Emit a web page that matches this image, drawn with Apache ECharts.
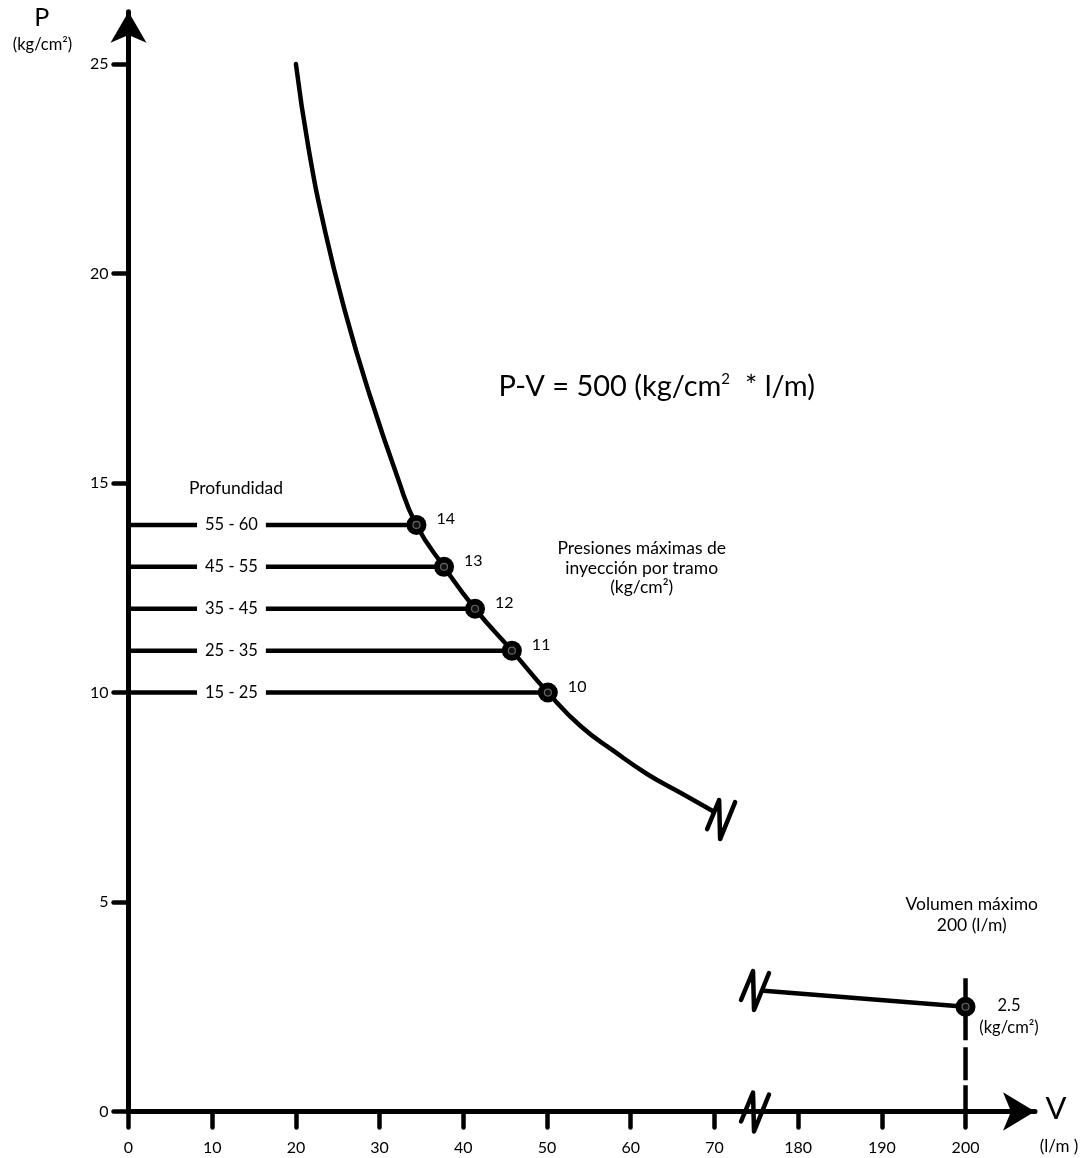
<!DOCTYPE html>
<html><head><meta charset="utf-8">
<script src="https://cdn.jsdelivr.net/npm/echarts@6/dist/echarts.min.js"></script>
<style>html,body{margin:0;padding:0;background:#fff}#c{width:1086px;height:1158px}</style>
</head><body><div id="c"></div>
<script>
// ---- data ----
const xTickLabels = [0, 10, 20, 30, 40, 50, 60, 70, 180, 190, 200];
const yTickLabels = [0, 5, 10, 15, 20, 25];
const curveV = [20.0, 21.5, 23.5, 26.0, 28.5, 32.2, 34.4, 37.7, 41.4, 45.8, 50.1, 54.0, 58.0, 62.0, 66.0, 69.9];
const curveP = [25.0, 23.0, 21.0, 19.0, 17.3, 15.1, 14.0, 13.0, 12.0, 11.0, 10.0, 9.2, 8.6, 8.05, 7.6, 7.16];
const levelP = [14, 13, 12, 11, 10];
const levelV = [34.4, 37.7, 41.4, 45.8, 50.1];
const levelNames = ['14', '13', '12', '11', '10'];
const depthLabels = ['55 - 60', '45 - 55', '35 - 45', '25 - 35', '15 - 25'];
const depthLabelV = 12.3;
const tailV = [175.9, 200];
const tailP = [2.88, 2.5];
const maxVolumeV = 200;
const maxVolumeLineP = [3.18, 0];
const breakMarksV = [70.8, 174.85, 174.85];
const breakMarksP = [6.98, 2.9, 0];

// broken x axis: values above 100 are drawn 100 units further left
const X_SHIFT = 100;
const toAxis = v => (v > X_SHIFT ? v - X_SHIFT : v);
const fromAxis = a => (a > 75 ? Math.round(a + X_SHIFT) : Math.round(a));

const FONT = 'Lato';
const chart = echarts.init(document.getElementById('c'), null, {renderer: 'canvas'});

const levelSeries = levelP.map((p, i) => ({
  type: 'line', data: [[0, p], [levelV[i], p]], symbol: 'none', silent: true,
  lineStyle: {color: '#000', width: 4.5, cap: 'round', opacity: 1}, z: 2
}));

const breakShape = [[-14, 10], [-2, -19], [-1, 20], [14, -17]];

const option = {
  backgroundColor: '#fff',
  animation: false,
  textStyle: {fontFamily: FONT},
  grid: {left: 128.5, right: 51, top: 11.7, bottom: 46.5, containLabel: false},
  xAxis: {
    type: 'value', min: 0, max: 108.3,
    splitLine: {show: false},
    axisLine: {lineStyle: {color: '#000', width: 5}, symbol: ['none', 'arrow'], symbolSize: [29, 32]},
    axisTick: {customValues: xTickLabels.map(toAxis), length: 16, lineStyle: {color: '#000', width: 4.5, cap: 'round'}},
    axisLabel: {customValues: xTickLabels.map(toAxis), formatter: v => String(fromAxis(v)), margin: 28, fontSize: 16, color: '#000', fontFamily: FONT}
  },
  yAxis: {
    type: 'value', min: 0, max: 26.25,
    splitLine: {show: false},
    axisLine: {lineStyle: {color: '#000', width: 5}, symbol: ['none', 'arrow'], symbolSize: [27, 31]},
    axisTick: {customValues: yTickLabels, length: 15, lineStyle: {color: '#000', width: 4.5, cap: 'round'}},
    axisLabel: {customValues: yTickLabels, margin: 20, fontSize: 16, color: '#000', fontFamily: FONT}
  },
  series: [
    {
      type: 'line', smooth: 0.5, symbol: 'none', silent: true,
      data: curveV.map((v, i) => [toAxis(v), curveP[i]]),
      lineStyle: {color: '#000', width: 4.5, cap: 'round', opacity: 1}, z: 3
    },
    ...levelSeries,
    {
      type: 'scatter', symbolSize: 1, itemStyle: {color: '#fff', opacity: 1}, z: 6,
      data: levelP.map((p, i) => ({value: [depthLabelV, p], name: depthLabels[i]})),
      label: {show: true, position: 'inside', formatter: '{b}', color: '#000', opacity: 1, fontSize: 16.5, fontFamily: FONT,
        textBorderWidth: 0, backgroundColor: '#fff', padding: [3, 8]}
    },
    {
      type: 'line', symbol: 'none', silent: true,
      data: tailV.map((v, i) => [toAxis(v), tailP[i]]),
      lineStyle: {color: '#000', width: 4.5, cap: 'round', opacity: 1}, z: 3
    },
    {
      type: 'line', symbol: 'none', silent: true,
      data: maxVolumeLineP.map(p => [toAxis(maxVolumeV), p]),
      lineStyle: {color: '#000', width: 4.5, type: [62, 7, 33, 5, 40], opacity: 1}, z: 3
    },
    {
      type: 'scatter', symbolSize: 20, z: 7,
      itemStyle: {color: '#000', opacity: 1},
      data: levelP.map((p, i) => ({value: [levelV[i], p], name: levelNames[i]})),
      label: {show: true, position: 'right', distance: 10, offset: [0, -6], formatter: '{b}', color: '#000', opacity: 1,
        textBorderWidth: 0, fontSize: 16, fontFamily: FONT}
    },
    {
      type: 'scatter', symbolSize: 20, z: 7, itemStyle: {color: '#000', opacity: 1},
      data: [[toAxis(tailV[1]), tailP[1]]]
    },
    {
      type: 'scatter', symbol: 'circle', symbolSize: 7, z: 8, silent: true,
      itemStyle: {color: '#111', borderColor: '#666', borderWidth: 1.2, opacity: 1},
      data: levelP.map((p, i) => [levelV[i], p]).concat([[toAxis(tailV[1]), tailP[1]]])
    },
    {
      type: 'custom', z: 9, silent: true,
      data: breakMarksV.map((v, i) => [toAxis(v), breakMarksP[i]]),
      renderItem: (params, api) => {
        const c = api.coord([api.value(0), api.value(1)]);
        return {
          type: 'polyline',
          shape: {points: breakShape.map(p => [c[0] + p[0], c[1] + p[1]])},
          style: {stroke: '#000', lineWidth: 4.5, fill: null, lineCap: 'round', lineJoin: 'round', opacity: 1}
        };
      }
    }
  ],
  graphic: [
    {type: 'text', x: 41.7, y: 18.3, style: {text: 'P', fontSize: 25, fontFamily: FONT, fill: '#000', align: 'center', verticalAlign: 'middle'}},
    {type: 'text', x: 42.5, y: 45, style: {text: '(kg/cm²)', fontSize: 16.5, fontFamily: FONT, fill: '#000', align: 'center', verticalAlign: 'middle'}},
    {type: 'text', x: 1056, y: 1109, style: {text: 'V', fontSize: 31, fontFamily: FONT, fill: '#000', align: 'center', verticalAlign: 'middle'}},
    {type: 'text', x: 1059, y: 1147, style: {text: '(l/m )', fontSize: 17, fontFamily: FONT, fill: '#000', align: 'center', verticalAlign: 'middle'}},
    {type: 'text', x: 236, y: 488.3, style: {text: 'Profundidad', fontSize: 17.5, fontFamily: FONT, fill: '#000', align: 'center', verticalAlign: 'middle'}},
    {type: 'text', x: 656.7, y: 386.7, style: {
      text: 'P-V = 500 (kg/cm{s|2}  * l/m)', fontSize: 29, fontFamily: FONT, fill: '#000', align: 'center', verticalAlign: 'middle',
      rich: {s: {fontSize: 15, fontFamily: FONT, fill: '#000', padding: [0, 0, 16, 0]}}}},
    {type: 'text', x: 641.7, y: 568.3, style: {text: 'Presiones máximas de\ninyección por tramo\n(kg/cm²)', fontSize: 17.5, lineHeight: 19.5, fontFamily: FONT, fill: '#000', align: 'center', verticalAlign: 'middle'}},
    {type: 'text', x: 971.7, y: 915, style: {text: 'Volumen máximo\n200 (l/m)', fontSize: 17.5, lineHeight: 20.5, fontFamily: FONT, fill: '#000', align: 'center', verticalAlign: 'middle'}},
    {type: 'text', x: 1009, y: 1017, style: {text: '2.5\n(kg/cm²)', fontSize: 16.5, lineHeight: 22, fontFamily: FONT, fill: '#000', align: 'center', verticalAlign: 'middle'}}
  ]
};
chart.setOption(option);
</script>
</body></html>
